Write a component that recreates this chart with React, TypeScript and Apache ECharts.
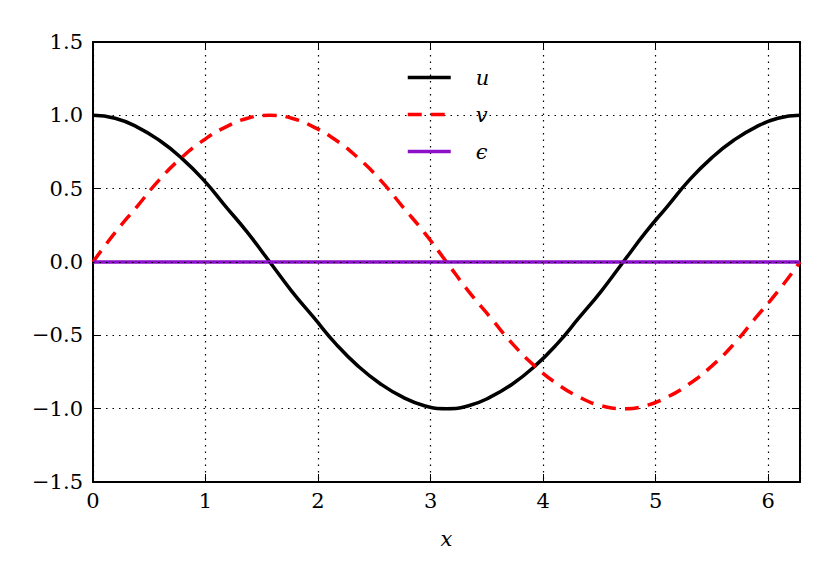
import React, { useEffect, useRef } from "react";
import * as echarts from "echarts";

const xValues = [0, 0.196, 0.393, 0.589, 0.785, 0.982, 1.178, 1.374, 1.571, 1.767, 1.963, 2.16, 2.356, 2.553, 2.749, 2.945, 3.142, 3.338, 3.534, 3.731, 3.927, 4.123, 4.32, 4.516, 4.712, 4.909, 5.105, 5.301, 5.498, 5.694, 5.89, 6.087, 6.283];
const uValues = [1.0, 0.98, 0.92, 0.83, 0.71, 0.56, 0.38, 0.2, 0.0, -0.2, -0.38, -0.56, -0.71, -0.83, -0.92, -0.98, -1.0, -0.98, -0.92, -0.83, -0.71, -0.56, -0.38, -0.2, 0.0, 0.2, 0.38, 0.56, 0.71, 0.83, 0.92, 0.98, 1.0];
const vValues = [0.0, 0.2, 0.38, 0.56, 0.71, 0.83, 0.92, 0.98, 1.0, 0.98, 0.92, 0.83, 0.71, 0.56, 0.38, 0.2, 0.0, -0.2, -0.38, -0.56, -0.71, -0.83, -0.92, -0.98, -1.0, -0.98, -0.92, -0.83, -0.71, -0.56, -0.38, -0.2, 0.0];
const epsValues = [0, 0, 0, 0, 0, 0, 0, 0, 0, 0, 0, 0, 0, 0, 0, 0, 0, 0, 0, 0, 0, 0, 0, 0, 0, 0, 0, 0, 0, 0, 0, 0, 0];
const seriesNames = ["u", "v", "ϵ"];
const xTicks = [0, 1, 2, 3, 4, 5, 6];
const yTicks = [-1.5, -1.0, -0.5, 0.0, 0.5, 1.0, 1.5];

const FONT = "DejaVu Serif";

export default function App() {
  const ref = useRef<HTMLDivElement>(null);
  useEffect(() => {
    if (!ref.current) return;
    const chart = echarts.init(ref.current, undefined, { renderer: "svg" });
    const pair = (ys: number[]) => xValues.map((x, i) => [x, ys[i]]);
    const fmtY = (v: number) => {
      const s = Math.abs(v).toFixed(1);
      return v < 0 ? "\u2212" + s : s;
    };
    const dots = [1.5, 5];
    const gridLine = { show: true, lineStyle: { color: "#000", type: dots, width: 1.2 } };
    const axisLine = { show: true, onZero: false, lineStyle: { color: "#000", width: 2 } };
    const ticks = { show: true, inside: true, length: 8, lineStyle: { color: "#000", width: 1 } };
    chart.setOption({
      animation: false,
      backgroundColor: "#fff",
      textStyle: { fontFamily: FONT, fontSize: 21 },
      grid: { left: 93, right: 30, top: 42, bottom: 99, containLabel: false },
      legend: {
        orient: "vertical",
        left: 401,
        top: 62,
        itemWidth: 43,
        itemHeight: 14,
        itemGap: 16,
        data: seriesNames,
        itemStyle: { opacity: 0 },
        lineStyle: { width: 3.5 },
        textStyle: { fontFamily: FONT, fontSize: 21, fontStyle: "italic", color: "#000", padding: [0, 0, 0, 20] },
      },
      xAxis: [
        {
          type: "value",
          min: 0,
          max: 6.2832,
          interval: 1,
          position: "bottom",
          name: "x",
          nameLocation: "middle",
          nameGap: 46,
          nameTextStyle: { fontFamily: FONT, fontSize: 21, fontStyle: "italic", color: "#000" },
          axisLine,
          axisTick: ticks,
          splitLine: gridLine,
          axisLabel: {
            fontFamily: FONT,
            fontSize: 21,
            color: "#000",
            margin: 8,
            showMaxLabel: false,
            formatter: (v: number) => (xTicks.includes(v) ? String(v) : ""),
          },
        },
        {
          type: "value",
          min: 0,
          max: 6.2832,
          interval: 1,
          position: "top",
          axisLine,
          axisTick: ticks,
          splitLine: { show: false },
          axisLabel: { show: false },
        },
      ],
      yAxis: [
        {
          type: "value",
          min: -1.5,
          max: 1.5,
          interval: 0.5,
          position: "left",
          axisLine,
          axisTick: ticks,
          splitLine: gridLine,
          axisLabel: {
            fontFamily: FONT,
            fontSize: 21,
            color: "#000",
            margin: 10,
            formatter: (v: number) => (yTicks.includes(v) ? fmtY(v) : ""),
          },
        },
        {
          type: "value",
          min: -1.5,
          max: 1.5,
          interval: 0.5,
          position: "right",
          axisLine,
          axisTick: ticks,
          splitLine: { show: false },
          axisLabel: { show: false },
        },
      ],
      series: [
        {
          name: seriesNames[0],
          type: "line",
          data: pair(uValues),
          smooth: true,
          showSymbol: false,
          symbol: "none",
          lineStyle: { color: "#000", width: 3.5 },
          itemStyle: { color: "#000" },
          z: 3,
        },
        {
          name: seriesNames[1],
          type: "line",
          data: pair(vValues),
          smooth: true,
          showSymbol: false,
          symbol: "none",
          lineStyle: { color: "#ff0000", width: 3.5, type: [14, 9] },
          itemStyle: { color: "#ff0000" },
          z: 3,
        },
        {
          name: seriesNames[2],
          type: "line",
          data: pair(epsValues),
          showSymbol: false,
          symbol: "none",
          lineStyle: { color: "#8b10c8", width: 3.5 },
          itemStyle: { color: "#8b10c8" },
          z: 3,
          markLine: {
            silent: true,
            symbol: "none",
            label: { show: false },
            lineStyle: { color: "#000", type: dots, width: 1.2 },
            data: [{ yAxis: 0 }],
            z: 5,
          },
        },
      ],
    });
    return () => chart.dispose();
  }, []);
  return <div ref={ref} style={{ width: 830, height: 581, margin: -8 }} />;
}
